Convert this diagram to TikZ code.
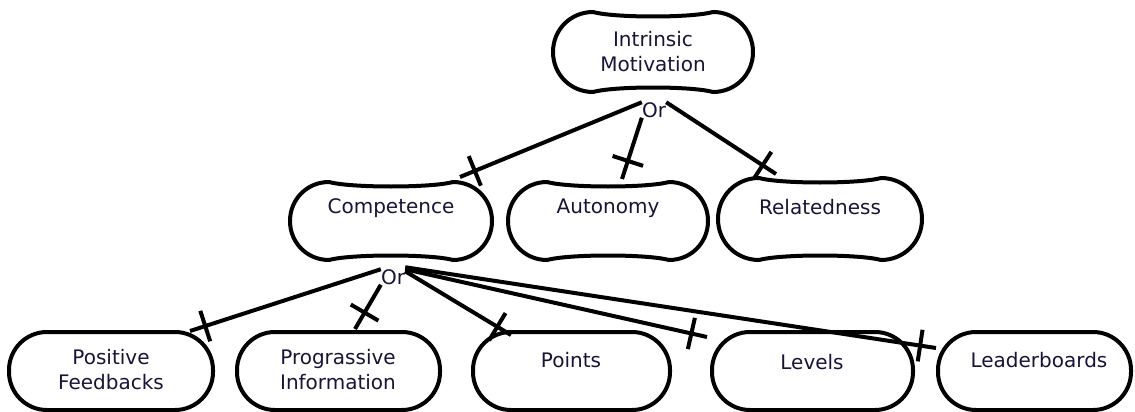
\documentclass[tikz,border=0pt]{standalone}
\usepackage{fontspec}
\setmainfont{DejaVu Sans}
\usetikzlibrary{calc,decorations.markings}
\definecolor{ink}{RGB}{25,20,55}

% Goal box with rounded ends and slightly pinched top and bottom edges
% #1 name, #2 cx, #3 cy, #4 width, #5 height
\newcommand\bonebox[5]{%
  \node[box, minimum width=#4pt, minimum height=#5pt] (#1) at (#2,#3) {};
  \pgfmathsetmacro\xl{#2-#4/2}\pgfmathsetmacro\xr{#2+#4/2}%
  \pgfmathsetmacro\yt{#3-#5/2}\pgfmathsetmacro\yb{#3+#5/2}%
  \pgfmathsetmacro\rr{#5/2}\pgfmathsetmacro\kk{0.56*#5/2}%
  \pgfmathsetmacro\ja{\xl+\rr}\pgfmathsetmacro\jb{\xr-\rr}%
  \pgfmathsetmacro\ca{\ja-\kk}\pgfmathsetmacro\cb{\jb+\kk}%
  \pgfmathsetmacro\da{\ja+22}\pgfmathsetmacro\db{\jb-22}%
  \pgfmathsetmacro\ua{#3-\kk}\pgfmathsetmacro\ub{#3+\kk}%
  \pgfmathsetmacro\pt{\yt+6}\pgfmathsetmacro\pb{\yb-6}%
  \draw[outline] (\ja,\yt)
    .. controls (\ca,\yt) and (\xl,\ua) .. (\xl,#3)
    .. controls (\xl,\ub) and (\ca,\yb) .. (\ja,\yb)
    .. controls (\da,\pb) and (\db,\pb) .. (\jb,\yb)
    .. controls (\cb,\yb) and (\xr,\ub) .. (\xr,#3)
    .. controls (\xr,\ua) and (\cb,\yt) .. (\jb,\yt)
    .. controls (\db,\pt) and (\da,\pt) .. cycle;
}

\begin{document}
\begin{tikzpicture}[x=1pt,y=-1pt,
  outline/.style={line width=4pt, line join=round},
  box/.style={inner sep=0pt, outer sep=0pt},
  pill/.style={draw, line width=4pt, inner sep=0pt, outer sep=0pt,
    rounded corners=38pt, minimum height=78pt},
  lbl/.style={text=ink, font=\fontsize{20}{25}\selectfont, align=center, inner sep=0pt},
  orlbl/.style={text=ink, font=\fontsize{20}{24}\selectfont, inner sep=0pt},
  link/.style={line width=4pt, postaction={decorate},
    decoration={markings, mark=at position -#1 with
      {\draw[line width=4pt] (0,-16pt) -- (0,16pt);}}},
  link/.default=16pt]

\useasboundingbox (0,0) rectangle (1135,412);

% top goal
\bonebox{im}{653}{52}{200}{80}
\node[lbl] (imt) at (653,52) {Intrinsic\\Motivation};
\node[orlbl] (or1) at (654,110) {Or};

% second level
\bonebox{comp}{391}{221}{202}{78}
\bonebox{auto}{608}{221}{200}{78}
\bonebox{rel}{820}{219}{204}{82}
\node[lbl] (compt) at (391,208) {Competence};
\node[lbl] (autot) at (608,208) {Autonomy};
\node[lbl] (relt) at (820,207) {Relatedness};
\node[orlbl] (or2) at (393,277) {Or};

% third level
\node[pill, minimum width=204pt] (pf) at (111,371) {};
\node[pill, minimum width=203pt] (pi) at (338.5,371) {};
\node[pill, minimum width=197pt] (pts) at (571.5,371) {};
\node[pill, minimum width=201pt] (lev) at (812.5,371) {};
\node[pill, minimum width=193pt] (ldr) at (1034.5,371) {};
\node[lbl] (pft) at (111,370) {Positive\\Feedbacks};
\node[lbl] (pit) at (338,370) {Prograssive\\Information};
\node[lbl] (ptst) at (571,360) {Points};
\node[lbl] (levt) at (812,362) {Levels};
\node[lbl] (ldrt) at (1039,360) {Leaderboards};

% decomposition links
\draw[link] (or1.north west) -- ($(comp.north east)+(-32,-5)$);
\draw[link=19pt] (or1.south west) -- ($(auto.north)+(14,-3)$);
\draw[link] (or1.north east) -- ($(rel.north west)+(58,-4)$);

\draw[link] (or2.north west) -- ($(pf.north east)+(-23,-1)$);
\draw[link=19pt] (or2.south west) -- ($(pi.north west)+(118,-3)$);
\draw[link] ($(or2.north east)+(0,2)$) -- ($(pts.north west)+(38,3)$);
\draw[link] (or2.north east) -- ($(lev.north west)+(-5,5)$);
\draw[link] ($(or2.north east)+(0,-2)$) -- ($(ldr.north west)+(-2,16)$);
\end{tikzpicture}
\end{document}
